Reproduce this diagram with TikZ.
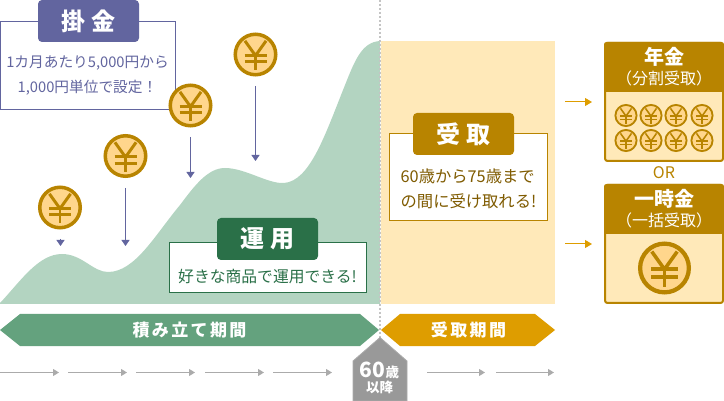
\documentclass[tikz,border=0pt]{standalone}
\usepackage{fontspec}
\setmainfont{Noto Sans CJK JP}
\newfontfamily\spaced[LetterSpace=14]{Noto Sans CJK JP}
\usetikzlibrary{arrows.meta,calc}
\definecolor{purp}{HTML}{62659F}
\definecolor{grn}{HTML}{2A7048}
\definecolor{gold}{HTML}{B88400}
\definecolor{brn}{HTML}{7F5B00}
\definecolor{pale}{HTML}{FFE9B9}
\definecolor{mint}{HTML}{B3D4C1}
\definecolor{band}{HTML}{64A27E}
\definecolor{orng}{HTML}{DE9D00}
\definecolor{coinf}{HTML}{FFD68C}
\definecolor{gry}{HTML}{999999}
\definecolor{lgry}{HTML}{ABABAB}
\tikzset{
  tagbox/.style={fill=#1,rounded corners=4pt,minimum width=101pt,minimum height=42pt,inner sep=0pt,text=white,font=\fontsize{24}{24}\selectfont\bfseries},
  framebox/.style={draw=#1,fill=white,line width=1pt},
  body/.style={inner sep=0pt,align=center,text=#1,font=\fontsize{14.7}{25}\selectfont},
  purarrow/.style={draw=purp,line width=1pt,-{Triangle[length=6pt,width=8pt]}},
  grayarrow/.style={draw=lgry,line width=1pt,-{Triangle[length=6pt,width=7pt]}},
  goldarrow/.style={draw=orng,line width=1pt,-{Triangle[length=7pt,width=8pt]}},
  coinshape/.style={circle,draw=gold,fill=coinf,inner sep=0pt},
  headtext/.style={text=white,inner sep=0pt},
}
% yen coin: #1 name, #2 centre, #3 radius
\newcommand{\yencoin}[3]{%
  \node[coinshape,minimum size=#3*2pt-#3*0.16pt,line width=#3*0.16pt] (#1) at (#2) {};
  \begin{scope}[shift={(#2)},x=#3*1pt,y=-#3*1pt,draw=gold,line width=#3*0.135pt]
    \draw (-.48,-.62) -- (0,.05) -- (.48,-.62);
    \draw (0,.05) -- (0,.72);
    \draw (-.5,.04) -- (.5,.04);
    \draw (-.5,.34) -- (.5,.34);
  \end{scope}}
\begin{document}
\begin{tikzpicture}[x=1pt,y=-1pt]
\useasboundingbox (0,0) rectangle (724,401);
% yellow and chart areas
\fill[pale] (381,41) rectangle (555,304);
\fill[mint] (0,304) -- (0,303) .. controls (20,282) and (38,254) .. (62,254)
  .. controls (82,254) and (93,272) .. (108,272)
  .. controls (135,272) and (155,235) .. (180,205)
  .. controls (195,185) and (208,168) .. (225,168)
  .. controls (245,168) and (268,184) .. (284,183)
  .. controls (310,181) and (325,135) .. (345,85)
  .. controls (355,60) and (362,42) .. (380,41) -- (380,304) -- cycle;
\draw[lgry!70,line width=1.5pt,dash pattern=on 2pt off 2pt] (380,0) -- (380,338);
% kakekin
\node[framebox=purp,minimum width=175pt,minimum height=88pt,inner sep=0pt,anchor=north west] (kbox) at (0,21) {};
\node[tagbox=purp] (ktag) at (88.5,21) {\spaced 掛\hspace{7pt}金};
\node[body=purp] (ktext) at (87.5,75.5) {1カ月あたり5,000円から\\1,000円単位で設定！};
% coins
\yencoin{c1}{60,207.5}{22}
\yencoin{c2}{125.5,156}{22}
\yencoin{c3}{190.5,105.5}{22}
\yencoin{c4}{255.5,54.5}{22}
\coordinate (t1a) at (60.5,239); \coordinate (t1) at (60.5,246);
\coordinate (s2) at (125.5,188); \coordinate (t2) at (125.5,246);
\coordinate (s3) at (190.5,137); \coordinate (t3) at (190.5,178);
\coordinate (s4) at (255.5,86); \coordinate (t4) at (255.5,161);
\draw[purarrow] (t1a) -- (t1);
\draw[purarrow] (s2) -- (t2);
\draw[purarrow] (s3) -- (t3);
\draw[purarrow] (s4) -- (t4);
% unyo
\node[framebox=grn,minimum width=197pt,minimum height=50pt,inner sep=0pt,anchor=north west] (ubox) at (169,242.5) {};
\node[tagbox=grn] (utag) at (267.5,239) {\spaced 運\hspace{7pt}用};
\node[body=grn,font=\fontsize{15.8}{25}\selectfont] (utext) at (267.5,277) {好きな商品で運用できる!};
% uketori
\node[framebox=gold,minimum width=158pt,minimum height=87pt,inner sep=0pt,anchor=north west] (rbox) at (389,133.5) {};
\node[tagbox=gold] (rtag) at (463.5,134) {\spaced 受\hspace{7pt}取};
\node[body=brn,align=left,font=\fontsize{16.3}{25}\selectfont] (rtext) at (468.5,189) {60歳から75歳まで\\の間に受け取れる!};
% period bands
\fill[band] (0,330) -- (20,314) -- (360,314) -- (379,330) -- (360,346) -- (20,346) -- cycle;
\fill[orng] (381,330) -- (400,314) -- (535,314) -- (555,330) -- (535,346) -- (400,346) -- cycle;
\node[text=white,inner sep=0pt,font=\fontsize{17}{17}\selectfont\bfseries\spaced] (bl) at (189.5,330) {積み立て期間};
\node[text=white,inner sep=0pt,font=\fontsize{17}{17}\selectfont\bfseries\spaced] (br) at (468.5,330) {受取期間};
% age house
\filldraw[fill=gry,draw=lgry,line width=.8pt] (353,401) -- (353,361) -- (380,337.5) -- (407,361) -- (407,401) -- cycle;
\node[headtext,font=\bfseries] (age1) at (379.5,370.5) {\fontsize{21}{21}\selectfont 60\fontsize{13.5}{14}\selectfont 歳};
\node[headtext,font=\fontsize{13.5}{14}\selectfont\bfseries] (age2) at (379.5,387.5) {以降};
% grey timeline arrows
\foreach \n/\a/\b in {a/0/59,b/68/127,c/136/195,d/205/264,e/273/332,f/427/485,g/496/554}{
  \coordinate (\n s) at (\a,372.5); \coordinate (\n e) at (\b,372.5);
  \draw[grayarrow] (\n s) -- (\n e);
}
% right panels
\draw[draw=gold,fill=pale,line width=2pt,rounded corners=2.5pt] (605,43) rectangle (723,161);
\fill[gold,rounded corners=2.5pt] (604,42) rectangle (724,60);
\fill[gold] (604,50) rectangle (724,92);
\node[headtext,font=\fontsize{20}{20}\selectfont\bfseries] (p1a) at (664,57) {年金};
\node[headtext,font=\fontsize{16}{16}\selectfont] (p1b) at (664,78) {（分割受取）};
\foreach \i/\cx in {1/626,2/651,3/676,4/702}{
  \yencoin{sa\i}{\cx,115.5}{11.5}
  \yencoin{sb\i}{\cx,140.5}{11.5}
}
\node[text=gold,inner sep=0pt,font=\fontsize{16}{16}\selectfont] (or) at (664,173) {OR};
\draw[draw=gold,fill=pale,line width=2pt,rounded corners=2.5pt] (605,185) rectangle (723,303);
\fill[gold,rounded corners=2.5pt] (604,184) rectangle (724,202);
\fill[gold] (604,192) rectangle (724,234);
\node[headtext,font=\fontsize{20}{20}\selectfont\bfseries] (p2a) at (664,199) {一時金};
\node[headtext,font=\fontsize{16}{16}\selectfont] (p2b) at (664,220) {（一括受取）};
\yencoin{big}{664.5,268}{26.5}
\coordinate (ga) at (565,102); \coordinate (gb) at (592,102);
\coordinate (gc) at (565,244); \coordinate (gd) at (592,244);
\draw[goldarrow] (ga) -- (gb);
\draw[goldarrow] (gc) -- (gd);
\end{tikzpicture}
\end{document}
